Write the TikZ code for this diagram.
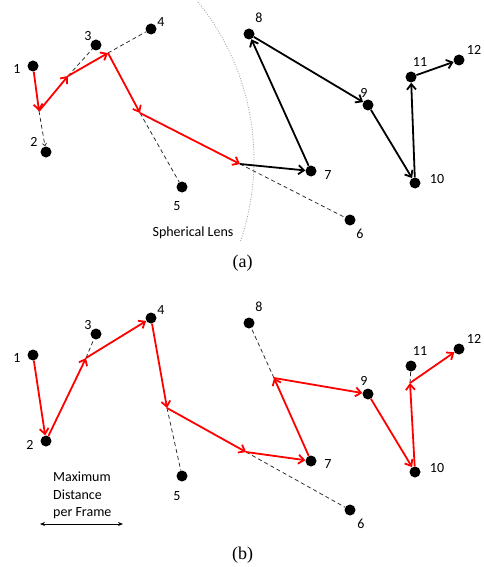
\documentclass[tikz,border=0pt]{standalone}
\usepackage{fontspec}
\setmainfont{Carlito}
\newfontfamily\capfont{Liberation Serif}
\usetikzlibrary{arrows.meta}
\begin{document}
\begin{tikzpicture}[x=1pt,y=-1pt,
  dot/.style={circle,fill=black,inner sep=0pt,minimum size=11pt},
  lbl/.style={inner sep=0pt,font=\fontsize{14}{16}\selectfont},
  note/.style={inner sep=0pt,align=left,font=\fontsize{14}{17.3}\selectfont},
  subcap/.style={inner sep=0pt,font=\capfont\fontsize{18}{20}\selectfont},
  barb/.style={-{Straight Barb[length=5.5pt,width=9pt]}},
  redpath/.style={draw=red,line width=1.8pt,barb},
  blackpath/.style={draw=black,line width=1.8pt,barb},
  ghost/.style={draw=black!85,line width=0.75pt,dash pattern=on 4pt off 3pt},
  lens/.style={draw=gray!70,line width=0.9pt,dash pattern=on 0.9pt off 1.6pt},
]
\useasboundingbox (0,0) rectangle (484,567);

% ---------------- (a) ----------------
% spherical lens boundary
\draw[lens] plot[domain=-39:19,samples=80,smooth] ({3+251*cos(\x)},{160+251*sin(\x)});
\node[lbl] (lenslbl) at (193,233) {Spherical Lens};

% targets
\node[dot] (a1) at (33,66) {};
\node[dot] (a2) at (46,152) {};
\node[dot] (a3) at (96,45) {};
\node[dot] (a4) at (151,29) {};
\node[dot] (a5) at (182,187) {};
\node[dot] (a6) at (350,220) {};
\node[dot] (a7) at (311,171) {};
\node[dot] (a8) at (249,34) {};
\node[dot] (a9) at (368,105) {};
\node[dot] (a10) at (415,183) {};
\node[dot] (a11) at (411,77) {};
\node[dot] (a12) at (459,60) {};

\node[lbl] (la1) at (17,69) {1};
\node[lbl] (la2) at (34,142) {2};
\node[lbl] (la3) at (88,36) {3};
\node[lbl] (la4) at (161,22) {4};
\node[lbl] (la5) at (177,206) {5};
\node[lbl] (la6) at (360,234) {6};
\node[lbl] (la7) at (328,175) {7};
\node[lbl] (la8) at (259,18) {8};
\node[lbl] (la9) at (364,93) {9};
\node[lbl] (la10) at (437,179) {10};
\node[lbl] (la11) at (420,62) {11};
\node[lbl] (la12) at (474,50) {12};

% limited steps
\coordinate (aA) at (39,111);
\coordinate (aB) at (68,76);
\coordinate (aC) at (108,53);
\coordinate (aD) at (140,113);
\coordinate (aE) at (240,164);

\draw[ghost,-{Straight Barb[length=2.5pt,width=4pt]}] (aA) -- (a2);
\draw[ghost] (aB) -- (a3);
\draw[ghost] (aC) -- (a4);
\draw[ghost] (aD) -- (a5);
\draw[ghost] (aE) -- (a6);

\draw[redpath] (a1) -- (aA);
\draw[redpath] (aA) -- (aB);
\draw[redpath] (aB) -- (aC);
\draw[redpath] (aC) -- (aD);
\draw[redpath] (aD) -- (aE);

\draw[blackpath] (aE) -- (a7);
\draw[blackpath] (a7) -- (a8);
\draw[blackpath] (a8) -- (a9);
\draw[blackpath] (a9) -- (a10);
\draw[blackpath] (a10) -- (a11);
\draw[blackpath] (a11) -- (a12);

\node[subcap] (capa) at (242.5,263) {(a)};

% ---------------- (b) ----------------
\node[dot] (b1) at (33,355) {};
\node[dot] (b2) at (46,441) {};
\node[dot] (b3) at (96,334) {};
\node[dot] (b4) at (151,318) {};
\node[dot] (b5) at (182,476) {};
\node[dot] (b6) at (350,510) {};
\node[dot] (b7) at (311,461) {};
\node[dot] (b8) at (249,323) {};
\node[dot] (b9) at (368,394) {};
\node[dot] (b10) at (415,472) {};
\node[dot] (b11) at (411,366) {};
\node[dot] (b12) at (459,349) {};

\node[lbl] (lb1) at (17,358) {1};
\node[lbl] (lb2) at (30,445) {2};
\node[lbl] (lb3) at (88,325) {3};
\node[lbl] (lb4) at (161,310) {4};
\node[lbl] (lb5) at (177,496) {5};
\node[lbl] (lb6) at (361,524) {6};
\node[lbl] (lb7) at (328,464) {7};
\node[lbl] (lb8) at (259,307) {8};
\node[lbl] (lb9) at (364,381) {9};
\node[lbl] (lb10) at (437,468) {10};
\node[lbl] (lb11) at (420,351) {11};
\node[lbl] (lb12) at (474,339) {12};

\coordinate (bP) at (86,358);
\coordinate (bQ) at (167,408);
\coordinate (bR) at (246,452);
\coordinate (bS) at (274,378);
\coordinate (bT) at (410,383);

\draw[ghost] (bP) -- (b3);
\draw[ghost] (bQ) -- (b5);
\draw[ghost] (bR) -- (b6);
\draw[ghost] (bS) -- (b8);
\draw[ghost] (bT) -- (b11);

\draw[redpath] (b1) -- (b2);
\draw[redpath] (b2) -- (bP);
\draw[redpath] (bP) -- (b4);
\draw[redpath] (b4) -- (bQ);
\draw[redpath] (bQ) -- (bR);
\draw[redpath] (bR) -- (b7);
\draw[redpath] (b7) -- (bS);
\draw[redpath] (bS) -- (b9);
\draw[redpath] (b9) -- (b10);
\draw[redpath] (b10) -- (bT);
\draw[redpath] (bT) -- (b12);

% step length scale
\node[note,anchor=west] (maxd) at (53,495.5) {Maximum\\Distance\\per Frame};
\coordinate (scaleL) at (40,524);
\coordinate (scaleR) at (123,524);
\draw[line width=1pt,{Stealth[length=5pt,width=4pt]}-{Stealth[length=5pt,width=4pt]}] (scaleL) -- (scaleR);

\node[subcap] (capb) at (242.5,555) {(b)};
\end{tikzpicture}
\end{document}
